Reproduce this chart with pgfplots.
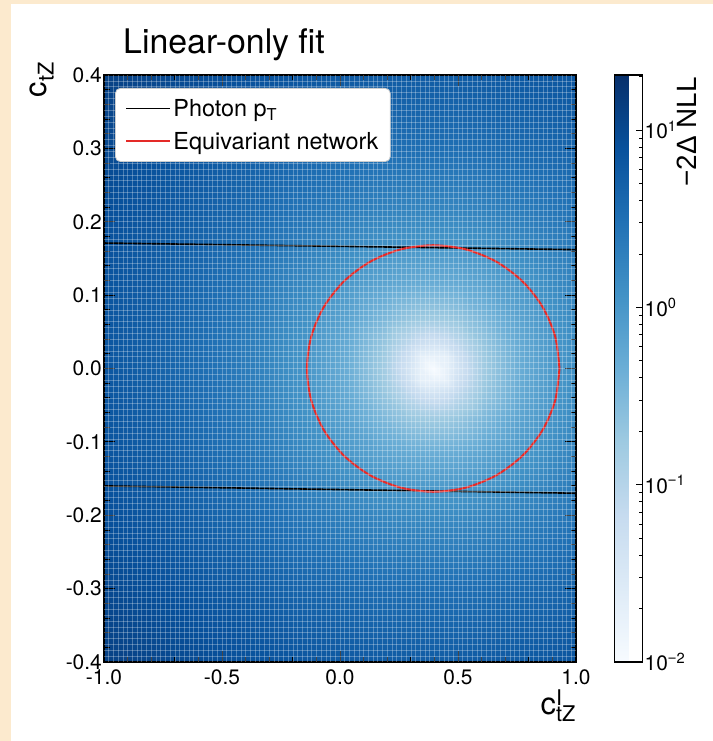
\documentclass[border=0pt]{standalone}
\usepackage{fontspec}
\setmainfont{TeX Gyre Heros}
\newfontfamily\lib{Liberation Sans}
\usepackage{pgfplots}
\usepackage{pgfplotstable}
\pgfplotsset{compat=1.18}
\definecolor{peach}{RGB}{252,234,206}
\definecolor{cred}{RGB}{228,42,40}
\definecolor{legframe}{RGB}{205,205,205}

% x  y  log10(-2 Delta NLL)
\pgfplotstableread{
x y c
-1.0 -0.4 1.0957
-0.782 -0.4 1.0216
-0.568 -0.4 0.9498
-0.354 -0.4 0.8825
-0.14 -0.4 0.8241
0.0205 -0.4 0.7895
0.181 -0.4 0.7656
0.288 -0.4 0.7566
0.3415 -0.4 0.7543
0.395 -0.4 0.7535
0.4485 -0.4 0.7543
0.502 -0.4 0.7566
0.609 -0.4 0.7656
0.7695 -0.4 0.7895
0.93 -0.4 0.8241
1.0 -0.4 0.8419
-1.0 -0.3024 1.0016
-0.782 -0.3024 0.9074
-0.568 -0.3024 0.8116
-0.354 -0.3024 0.7160
-0.14 -0.3024 0.6274
0.0205 -0.3024 0.5717
0.181 -0.3024 0.5315
0.288 -0.3024 0.5159
0.3415 -0.3024 0.5119
0.395 -0.3024 0.5105
0.4485 -0.3024 0.5119
0.502 -0.3024 0.5159
0.609 -0.3024 0.5315
0.7695 -0.3024 0.5717
0.93 -0.3024 0.6274
1.0 -0.3024 0.6550
-1.0 -0.2184 0.9287
-0.782 -0.2184 0.8149
-0.568 -0.2184 0.6928
-0.354 -0.2184 0.5623
-0.14 -0.2184 0.4298
0.0205 -0.2184 0.3385
0.181 -0.2184 0.2672
0.288 -0.2184 0.2380
0.3415 -0.2184 0.2304
0.395 -0.2184 0.2279
0.4485 -0.2184 0.2304
0.502 -0.2184 0.2380
0.609 -0.2184 0.2672
0.7695 -0.2184 0.3385
0.93 -0.2184 0.4298
1.0 -0.2184 0.4726
-1.0 -0.168 0.8919
-0.782 -0.168 0.7664
-0.568 -0.168 0.6274
-0.354 -0.168 0.4713
-0.14 -0.168 0.3010
0.0205 -0.168 0.1732
0.181 -0.168 0.0645
0.288 -0.168 0.0170
0.3415 -0.168 0.0043
0.395 -0.168 0.0000
0.4485 -0.168 0.0043
0.502 -0.168 0.0170
0.609 -0.168 0.0645
0.7695 -0.168 0.1732
0.93 -0.168 0.3010
1.0 -0.168 0.3577
-1.0 -0.1176 0.8625
-0.782 -0.1176 0.7267
-0.568 -0.1176 0.5717
-0.354 -0.1176 0.3892
-0.14 -0.1176 0.1732
0.0205 -0.1176 -0.0088
0.181 -0.1176 -0.1871
0.288 -0.1176 -0.2757
0.3415 -0.1176 -0.3010
0.395 -0.1176 -0.3098
0.4485 -0.1176 -0.3010
0.502 -0.1176 -0.2757
0.609 -0.1176 -0.1871
0.7695 -0.1176 -0.0088
0.93 -0.1176 0.1732
1.0 -0.1176 0.2477
-1.0 -0.0672 0.8424
-0.782 -0.0672 0.6990
-0.568 -0.0672 0.5315
-0.354 -0.0672 0.3263
-0.14 -0.0672 0.0645
0.0205 -0.0672 -0.1871
0.181 -0.0672 -0.4949
0.288 -0.0672 -0.6990
0.3415 -0.0672 -0.7696
0.395 -0.0672 -0.7959
0.4485 -0.0672 -0.7696
0.502 -0.0672 -0.6990
0.609 -0.0672 -0.4949
0.7695 -0.0672 -0.1871
0.93 -0.0672 0.0645
1.0 -0.0672 0.1581
-1.0 -0.0336 0.8348
-0.782 -0.0336 0.6884
-0.568 -0.0336 0.5159
-0.354 -0.0336 0.3010
-0.14 -0.0336 0.0170
0.0205 -0.0336 -0.2757
0.181 -0.0336 -0.6990
0.288 -0.0336 -1.0969
0.3415 -0.0336 -1.3010
0.395 -0.0336 -1.3979
0.4485 -0.0336 -1.3010
0.502 -0.0336 -1.0969
0.609 -0.0336 -0.6990
0.7695 -0.0336 -0.2757
0.93 -0.0336 0.0170
1.0 -0.0336 0.1202
-1.0 -0.0168 0.8329
-0.782 -0.0168 0.6857
-0.568 -0.0168 0.5119
-0.354 -0.0168 0.2945
-0.14 -0.0168 0.0043
0.0205 -0.0168 -0.3010
0.181 -0.0168 -0.7696
0.288 -0.0168 -1.3010
0.3415 -0.0168 -1.6990
0.395 -0.0168 -1.7500
0.4485 -0.0168 -1.6990
0.502 -0.0168 -1.3010
0.609 -0.0168 -0.7696
0.7695 -0.0168 -0.3010
0.93 -0.0168 0.0043
1.0 -0.0168 0.1103
-1.0 0 0.8323
-0.782 0 0.6848
-0.568 0 0.5105
-0.354 0 0.2923
-0.14 0 0.0000
0.0205 0 -0.3098
0.181 0 -0.7959
0.288 0 -1.3979
0.3415 0 -1.7500
0.395 0 -2.0000
0.4485 0 -1.7500
0.502 0 -1.3979
0.609 0 -0.7959
0.7695 0 -0.3098
0.93 0 0.0000
1.0 0 0.1069
-1.0 0.0168 0.8329
-0.782 0.0168 0.6857
-0.568 0.0168 0.5119
-0.354 0.0168 0.2945
-0.14 0.0168 0.0043
0.0205 0.0168 -0.3010
0.181 0.0168 -0.7696
0.288 0.0168 -1.3010
0.3415 0.0168 -1.6990
0.395 0.0168 -1.7500
0.4485 0.0168 -1.6990
0.502 0.0168 -1.3010
0.609 0.0168 -0.7696
0.7695 0.0168 -0.3010
0.93 0.0168 0.0043
1.0 0.0168 0.1103
-1.0 0.0336 0.8348
-0.782 0.0336 0.6884
-0.568 0.0336 0.5159
-0.354 0.0336 0.3010
-0.14 0.0336 0.0170
0.0205 0.0336 -0.2757
0.181 0.0336 -0.6990
0.288 0.0336 -1.0969
0.3415 0.0336 -1.3010
0.395 0.0336 -1.3979
0.4485 0.0336 -1.3010
0.502 0.0336 -1.0969
0.609 0.0336 -0.6990
0.7695 0.0336 -0.2757
0.93 0.0336 0.0170
1.0 0.0336 0.1202
-1.0 0.0672 0.8424
-0.782 0.0672 0.6990
-0.568 0.0672 0.5315
-0.354 0.0672 0.3263
-0.14 0.0672 0.0645
0.0205 0.0672 -0.1871
0.181 0.0672 -0.4949
0.288 0.0672 -0.6990
0.3415 0.0672 -0.7696
0.395 0.0672 -0.7959
0.4485 0.0672 -0.7696
0.502 0.0672 -0.6990
0.609 0.0672 -0.4949
0.7695 0.0672 -0.1871
0.93 0.0672 0.0645
1.0 0.0672 0.1581
-1.0 0.1176 0.8625
-0.782 0.1176 0.7267
-0.568 0.1176 0.5717
-0.354 0.1176 0.3892
-0.14 0.1176 0.1732
0.0205 0.1176 -0.0088
0.181 0.1176 -0.1871
0.288 0.1176 -0.2757
0.3415 0.1176 -0.3010
0.395 0.1176 -0.3098
0.4485 0.1176 -0.3010
0.502 0.1176 -0.2757
0.609 0.1176 -0.1871
0.7695 0.1176 -0.0088
0.93 0.1176 0.1732
1.0 0.1176 0.2477
-1.0 0.168 0.8919
-0.782 0.168 0.7664
-0.568 0.168 0.6274
-0.354 0.168 0.4713
-0.14 0.168 0.3010
0.0205 0.168 0.1732
0.181 0.168 0.0645
0.288 0.168 0.0170
0.3415 0.168 0.0043
0.395 0.168 0.0000
0.4485 0.168 0.0043
0.502 0.168 0.0170
0.609 0.168 0.0645
0.7695 0.168 0.1732
0.93 0.168 0.3010
1.0 0.168 0.3577
-1.0 0.2184 0.9287
-0.782 0.2184 0.8149
-0.568 0.2184 0.6928
-0.354 0.2184 0.5623
-0.14 0.2184 0.4298
0.0205 0.2184 0.3385
0.181 0.2184 0.2672
0.288 0.2184 0.2380
0.3415 0.2184 0.2304
0.395 0.2184 0.2279
0.4485 0.2184 0.2304
0.502 0.2184 0.2380
0.609 0.2184 0.2672
0.7695 0.2184 0.3385
0.93 0.2184 0.4298
1.0 0.2184 0.4726
-1.0 0.3024 1.0016
-0.782 0.3024 0.9074
-0.568 0.3024 0.8116
-0.354 0.3024 0.7160
-0.14 0.3024 0.6274
0.0205 0.3024 0.5717
0.181 0.3024 0.5315
0.288 0.3024 0.5159
0.3415 0.3024 0.5119
0.395 0.3024 0.5105
0.4485 0.3024 0.5119
0.502 0.3024 0.5159
0.609 0.3024 0.5315
0.7695 0.3024 0.5717
0.93 0.3024 0.6274
1.0 0.3024 0.6550
-1.0 0.4 1.0957
-0.782 0.4 1.0216
-0.568 0.4 0.9498
-0.354 0.4 0.8825
-0.14 0.4 0.8241
0.0205 0.4 0.7895
0.181 0.4 0.7656
0.288 0.4 0.7566
0.3415 0.4 0.7543
0.395 0.4 0.7535
0.4485 0.4 0.7543
0.502 0.4 0.7566
0.609 0.4 0.7656
0.7695 0.4 0.7895
0.93 0.4 0.8241
1.0 0.4 0.8419
}\nlltab

\begin{document}
\begin{tikzpicture}
\fill[peach] (0,0) rectangle (713bp,741bp);
\fill[white] (11bp,0) rectangle (713bp,737bp);
\begin{axis}[
  at={(104bp,79bp)}, anchor=south west,
  width=472bp, height=587bp, scale only axis,
  xmin=-1, xmax=1, ymin=-0.4, ymax=0.4,
  xtick={-1,-0.5,0,0.5,1},
  ytick={-0.4,-0.3,-0.2,-0.1,0,0.1,0.2,0.3,0.4},
  /pgf/number format/assume math mode=true,
  tick label style={font=\fontsize{21}{25}\selectfont, inner sep=2bp},
  xticklabel style={yshift=-5bp, /pgf/number format/.cd, fixed, fixed zerofill, precision=1},
  yticklabel style={/pgf/number format/.cd, fixed, fixed zerofill, precision=1},
  minor x tick num=4, minor y tick num=4,
  tick align=inside, xtick pos=both, ytick pos=both,
  major tick length=11bp, minor tick length=5.5bp,
  tick style={black, line width=0.8bp},
  axis line style={line width=1.4bp},
  axis on top,
  extra x ticks={-0.98,-0.96,...,0.985},
  extra y ticks={-0.392,-0.384,...,0.393},
  extra tick style={grid=major, major tick length=0pt, xticklabel={}, yticklabel={}},
  major grid style={white, opacity=0.28, line width=0.55bp},
  colormap={blues}{rgb255=(247,251,255) rgb255=(222,235,247) rgb255=(198,219,239) rgb255=(158,202,225) rgb255=(107,174,214) rgb255=(66,146,198) rgb255=(33,113,181) rgb255=(8,81,156) rgb255=(8,48,107)},
  point meta min=-2, point meta max=1.31,
  colorbar,
  colorbar style={
    at={(parent axis.north east)}, anchor=north west, xshift=30bp,
    width=28bp, height=587bp, scale only axis,
    ytick={-2,-1,0,1},
    yticklabels={10\textsuperscript{{\lib −}2},10\textsuperscript{{\lib −}1},10\textsuperscript{0},10\textsuperscript{1}},
    minor ytick={-1.699,-1.523,-1.398,-1.301,-1.222,-1.155,-1.097,-1.046,-0.699,-0.523,-0.398,-0.301,-0.222,-0.155,-0.097,-0.046,0.301,0.477,0.602,0.699,0.778,0.845,0.903,0.954,1.301},
    ytick pos=right, yticklabel pos=right,
    tick align=inside,
    major tick length=7bp, minor tick length=4bp,
    tick style={black, line width=0.8bp},
    axis line style={line width=1.4bp},
    yticklabel style={font=\fontsize{21}{25}\selectfont, inner sep=2bp},
  },
  title={Linear-only fit},
  title style={at={(axis description cs:0.0403,1.026)}, anchor=base west, inner sep=0pt, font=\fontsize{34}{40}\selectfont},
  xlabel={c\rlap{\textsuperscript{I}}\textsubscript{tZ}},
  xlabel style={at={(axis description cs:1,-0.047)}, anchor=north east, inner sep=0pt, font=\fontsize{31}{36}\selectfont},
  ylabel={c\textsubscript{tZ}},
  ylabel style={at={(axis description cs:-0.106,1.022)}, anchor=south east, inner sep=0pt, font=\fontsize{31}{36}\selectfont},
  legend style={at={(0,1)}, anchor=north west, xshift=11bp, yshift=-13bp,
    draw=legframe, line width=0.8bp, rounded corners=5bp, fill=white,
    font=\fontsize{23.5}{28}\selectfont, inner xsep=10bp, inner ysep=9bp,
    row sep=10bp, cells={anchor=west}},
  legend image code/.code={\path (0bp,0bp) -- (44bp,0bp); \draw[#1] (2bp,0bp) -- (32bp,0bp);},
]
\addplot[surf, shader=interp, forget plot, mesh/cols=16, mesh/rows=17, point meta=explicit]
  table[x=x, y=y, meta=c] {\nlltab};

\addplot[black, line width=1.6bp] coordinates {(-1,0.171) (0,0.1665) (1,0.162)};
\addlegendentry{Photon p\textsubscript{T}}
\addplot[black, line width=1.6bp, forget plot] coordinates {(-1,-0.160) (0,-0.165) (1,-0.170)};

\addplot[cred, line width=2bp, smooth] coordinates {
(0.930,0) (0.9118,0.0435) (0.8583,0.0840) (0.7733,0.1188) (0.6625,0.1455) (0.5335,0.1623)
(0.395,0.168) (0.2565,0.1623) (0.1275,0.1455) (0.0167,0.1188) (-0.0683,0.0840) (-0.1218,0.0435)
(-0.140,0) (-0.1218,-0.0435) (-0.0683,-0.0840) (0.0167,-0.1188) (0.1275,-0.1455) (0.2565,-0.1623)
(0.395,-0.168) (0.5335,-0.1623) (0.6625,-0.1455) (0.7733,-0.1188) (0.8583,-0.0840) (0.9118,-0.0435)
(0.930,0)};
\addlegendentry{Equivariant network}
\end{axis}
\node[rotate=90, anchor=north east, inner sep=0pt, font=\fontsize{28}{32}\selectfont\lib] at (677bp,664bp) {−2Δ NLL};
\end{tikzpicture}
\end{document}
